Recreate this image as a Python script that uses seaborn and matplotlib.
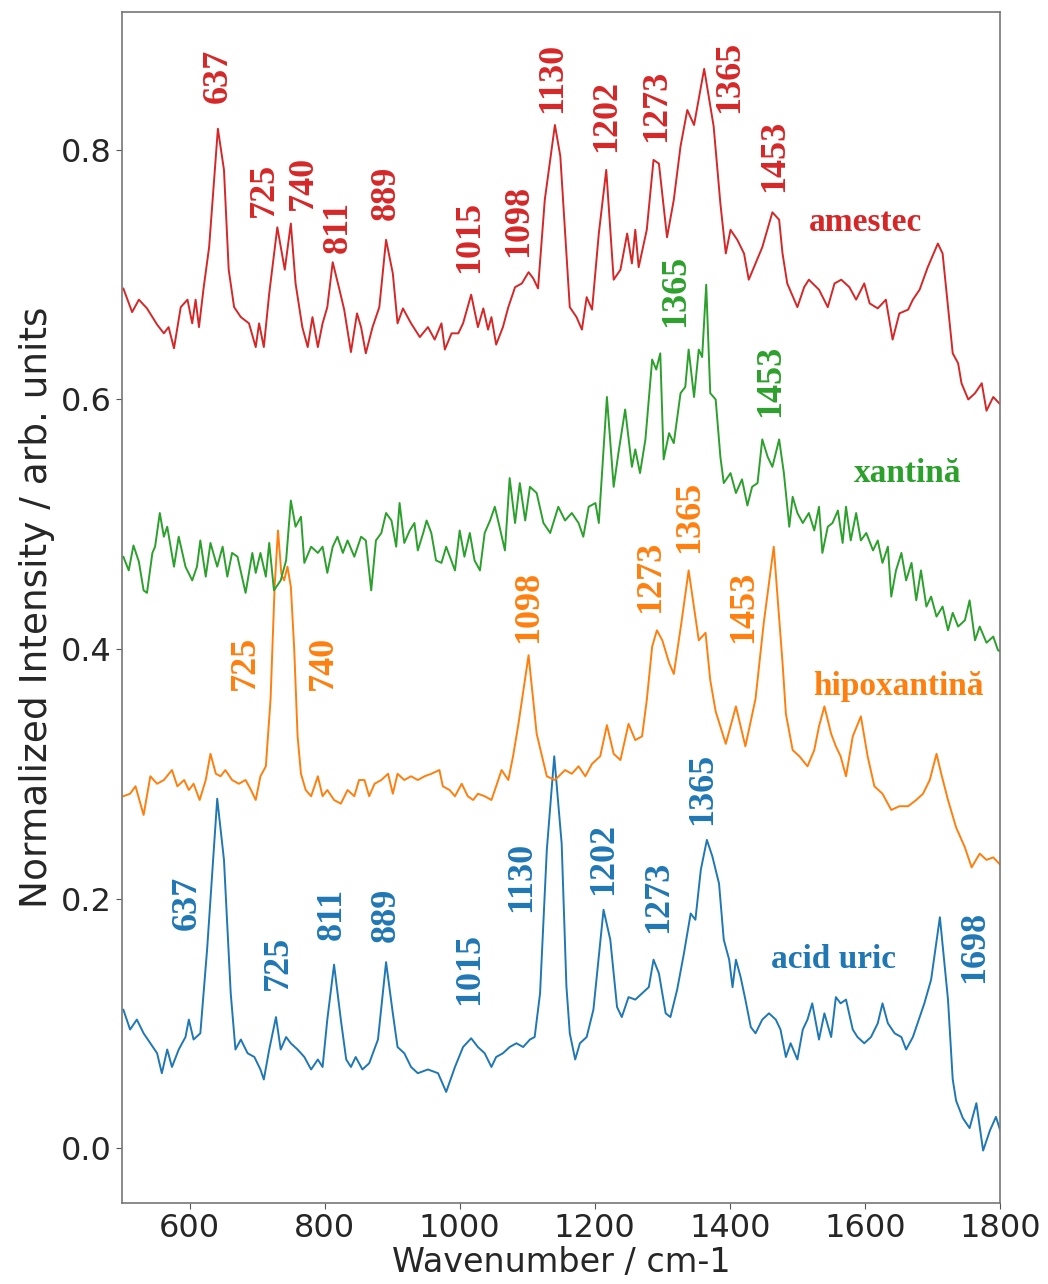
import numpy as np
import pandas as pd
import seaborn as sns
import matplotlib.pyplot as plt

# ---- spectra (wavenumber, normalized intensity) ----
amestec_x = [502, 515, 525, 537, 552, 562, 569, 577, 587, 597, 604, 609, 614, 621, 629, 642, 651, 658,
             666, 676, 688, 698, 703, 710, 718, 730, 741, 750, 757, 767, 775, 782, 790, 797, 804, 812,
             822, 829, 839, 848, 854, 861, 871, 881, 891, 901, 908, 916, 928, 941, 953, 963, 973, 978,
             988, 998, 1005, 1017, 1027, 1035, 1042, 1047, 1054, 1064, 1072, 1082, 1092, 1102, 1109,
             1116, 1126, 1141, 1149, 1163, 1173, 1181, 1188, 1196, 1206, 1217, 1228, 1238, 1248, 1255,
             1260, 1265, 1277, 1287, 1295, 1307, 1317, 1327, 1337, 1347, 1362, 1376, 1386, 1394, 1401,
             1411, 1421, 1428, 1438, 1448, 1463, 1473, 1478, 1485, 1500, 1510, 1517, 1532, 1545, 1555,
             1565, 1577, 1587, 1599, 1607, 1619, 1631, 1641, 1651, 1664, 1671, 1681, 1693, 1708, 1715,
             1723, 1730, 1738, 1743, 1753, 1763, 1773, 1780, 1790, 1804]
amestec_y = [0.689, 0.670, 0.680, 0.673, 0.660, 0.653, 0.658, 0.641, 0.674, 0.680, 0.661, 0.680, 0.658,
             0.690, 0.722, 0.817, 0.784, 0.704, 0.674, 0.666, 0.661, 0.642, 0.661, 0.642, 0.685, 0.738,
             0.704, 0.741, 0.693, 0.658, 0.642, 0.666, 0.642, 0.661, 0.674, 0.710, 0.688, 0.672, 0.638,
             0.669, 0.658, 0.637, 0.658, 0.674, 0.728, 0.701, 0.661, 0.673, 0.661, 0.650, 0.658, 0.648,
             0.661, 0.640, 0.653, 0.653, 0.661, 0.684, 0.658, 0.673, 0.656, 0.666, 0.644, 0.658, 0.674,
             0.690, 0.693, 0.702, 0.697, 0.689, 0.760, 0.820, 0.795, 0.674, 0.666, 0.656, 0.682, 0.672,
             0.733, 0.784, 0.696, 0.704, 0.733, 0.709, 0.736, 0.706, 0.736, 0.792, 0.789, 0.730, 0.760,
             0.803, 0.832, 0.820, 0.865, 0.819, 0.757, 0.717, 0.736, 0.728, 0.717, 0.696, 0.709, 0.722,
             0.750, 0.744, 0.717, 0.693, 0.674, 0.690, 0.696, 0.688, 0.674, 0.693, 0.696, 0.690, 0.680,
             0.693, 0.677, 0.673, 0.680, 0.648, 0.669, 0.672, 0.680, 0.688, 0.706, 0.725, 0.717, 0.674,
             0.637, 0.629, 0.613, 0.600, 0.605, 0.613, 0.591, 0.602, 0.594]

xantina_x = [502, 510, 517, 525, 532, 537, 545, 549, 556, 562, 567, 577, 584, 594, 604, 611, 616, 624,
             631, 641, 649, 656, 663, 671, 683, 693, 698, 705, 713, 718, 725, 735, 743, 750, 757, 765,
             770, 780, 790, 797, 804, 812, 819, 827, 834, 844, 854, 861, 869, 876, 884, 891, 899, 906,
             911, 918, 926, 933, 938, 946, 951, 958, 965, 973, 980, 993, 1000, 1007, 1015, 1022, 1030,
             1037, 1045, 1052, 1059, 1067, 1074, 1082, 1089, 1097, 1104, 1114, 1124, 1134, 1146, 1156,
             1166, 1176, 1183, 1191, 1201, 1206, 1210, 1218, 1228, 1235, 1245, 1255, 1260, 1267, 1275,
             1285, 1291, 1297, 1302, 1310, 1317, 1327, 1334, 1339, 1347, 1354, 1359, 1365, 1371, 1379,
             1386, 1391, 1401, 1409, 1418, 1426, 1433, 1441, 1448, 1456, 1463, 1473, 1480, 1488, 1493,
             1500, 1508, 1517, 1525, 1532, 1537, 1545, 1552, 1560, 1567, 1572, 1579, 1587, 1594, 1602,
             1612, 1619, 1626, 1634, 1639, 1646, 1654, 1661, 1669, 1676, 1683, 1691, 1698, 1706, 1715,
             1723, 1730, 1738, 1748, 1755, 1763, 1770, 1780, 1790, 1797, 1804]
xantina_y = [0.474, 0.463, 0.483, 0.470, 0.447, 0.445, 0.477, 0.482, 0.509, 0.490, 0.498, 0.466, 0.490,
             0.466, 0.455, 0.466, 0.487, 0.458, 0.485, 0.466, 0.482, 0.458, 0.477, 0.474, 0.445, 0.477,
             0.461, 0.477, 0.458, 0.485, 0.447, 0.455, 0.471, 0.519, 0.498, 0.506, 0.469, 0.482, 0.477,
             0.482, 0.461, 0.482, 0.490, 0.477, 0.487, 0.474, 0.490, 0.487, 0.447, 0.487, 0.493, 0.509,
             0.503, 0.482, 0.517, 0.485, 0.495, 0.501, 0.479, 0.493, 0.503, 0.493, 0.471, 0.469, 0.482,
             0.463, 0.495, 0.474, 0.493, 0.471, 0.463, 0.493, 0.503, 0.514, 0.498, 0.479, 0.537, 0.501,
             0.533, 0.503, 0.530, 0.525, 0.501, 0.493, 0.514, 0.503, 0.509, 0.501, 0.490, 0.514, 0.517,
             0.501, 0.535, 0.602, 0.530, 0.557, 0.592, 0.546, 0.560, 0.541, 0.568, 0.632, 0.624, 0.637,
             0.552, 0.573, 0.565, 0.605, 0.610, 0.640, 0.602, 0.640, 0.634, 0.692, 0.605, 0.600, 0.554,
             0.533, 0.541, 0.525, 0.536, 0.515, 0.530, 0.533, 0.568, 0.554, 0.546, 0.568, 0.541, 0.498,
             0.522, 0.509, 0.501, 0.509, 0.495, 0.514, 0.477, 0.498, 0.501, 0.511, 0.485, 0.514, 0.487,
             0.509, 0.487, 0.493, 0.479, 0.487, 0.469, 0.482, 0.442, 0.463, 0.477, 0.455, 0.469, 0.439,
             0.463, 0.434, 0.442, 0.426, 0.434, 0.415, 0.429, 0.418, 0.423, 0.439, 0.407, 0.418, 0.405,
             0.410, 0.399, 0.397]

hipox_x = [502, 512, 520, 532, 542, 552, 562, 574, 582, 592, 599, 606, 615, 624, 631, 639, 646, 653,
           663, 673, 683, 691, 698, 705, 713, 720, 726, 731, 736, 740, 745, 750, 755, 760, 765, 772,
           780, 790, 797, 804, 814, 824, 834, 844, 851, 859, 866, 874, 884, 894, 901, 908, 918, 928,
           938, 948, 958, 970, 975, 985, 993, 1003, 1012, 1020, 1027, 1037, 1047, 1054, 1062, 1072,
           1079, 1087, 1102, 1114, 1129, 1141, 1156, 1166, 1176, 1186, 1196, 1208, 1218, 1228, 1238,
           1250, 1260, 1270, 1277, 1285, 1292, 1300, 1310, 1317, 1328, 1339, 1354, 1364, 1371, 1379,
           1394, 1409, 1423, 1438, 1450, 1465, 1478, 1483, 1493, 1503, 1515, 1525, 1532, 1540, 1550,
           1557, 1564, 1572, 1582, 1594, 1604, 1614, 1626, 1639, 1651, 1664, 1676, 1686, 1696, 1706,
           1713, 1723, 1735, 1748, 1758, 1770, 1780, 1790, 1804]
hipox_y = [0.282, 0.284, 0.290, 0.267, 0.298, 0.292, 0.295, 0.303, 0.290, 0.295, 0.287, 0.292, 0.279,
           0.295, 0.316, 0.300, 0.298, 0.303, 0.295, 0.292, 0.295, 0.287, 0.279, 0.298, 0.306, 0.360,
           0.450, 0.495, 0.460, 0.455, 0.466, 0.450, 0.400, 0.330, 0.300, 0.287, 0.282, 0.298, 0.282,
           0.287, 0.279, 0.276, 0.287, 0.282, 0.295, 0.295, 0.282, 0.292, 0.295, 0.300, 0.284, 0.300,
           0.295, 0.298, 0.295, 0.298, 0.300, 0.303, 0.290, 0.287, 0.282, 0.292, 0.282, 0.279, 0.284,
           0.282, 0.279, 0.290, 0.303, 0.295, 0.314, 0.340, 0.395, 0.332, 0.298, 0.295, 0.303, 0.300,
           0.306, 0.298, 0.308, 0.314, 0.339, 0.316, 0.311, 0.340, 0.327, 0.330, 0.359, 0.402, 0.415,
           0.407, 0.389, 0.380, 0.420, 0.463, 0.407, 0.413, 0.375, 0.350, 0.324, 0.354, 0.322, 0.360,
           0.420, 0.482, 0.389, 0.348, 0.319, 0.314, 0.306, 0.319, 0.338, 0.354, 0.332, 0.322, 0.314,
           0.298, 0.330, 0.346, 0.314, 0.290, 0.284, 0.271, 0.274, 0.274, 0.279, 0.284, 0.295, 0.316,
           0.300, 0.279, 0.257, 0.241, 0.225, 0.236, 0.231, 0.233, 0.225]

uric_x = [502, 512, 522, 532, 542, 552, 559, 567, 574, 584, 594, 599, 606, 616, 626, 641, 651, 661,
          668, 676, 686, 696, 705, 710, 718, 728, 735, 743, 750, 760, 770, 780, 790, 797, 804, 814,
          824, 832, 839, 846, 856, 866, 879, 891, 901, 908, 918, 928, 938, 953, 968, 980, 993, 1005,
          1017, 1027, 1037, 1047, 1054, 1064, 1074, 1084, 1094, 1104, 1111, 1119, 1129, 1140, 1151,
          1158, 1163, 1171, 1178, 1188, 1198, 1213, 1223, 1233, 1240, 1250, 1260, 1270, 1280, 1287,
          1295, 1305, 1312, 1322, 1332, 1342, 1349, 1357, 1366, 1374, 1384, 1391, 1399, 1404, 1409,
          1416, 1423, 1431, 1438, 1448, 1458, 1468, 1475, 1483, 1490, 1500, 1508, 1515, 1522, 1532,
          1540, 1550, 1557, 1564, 1572, 1582, 1589, 1599, 1609, 1619, 1626, 1634, 1644, 1654, 1661,
          1671, 1681, 1688, 1698, 1711, 1723, 1730, 1735, 1745, 1755, 1765, 1775, 1785, 1794, 1801]
uric_y = [0.111, 0.095, 0.103, 0.092, 0.084, 0.076, 0.060, 0.079, 0.065, 0.079, 0.089, 0.103, 0.087,
          0.092, 0.159, 0.280, 0.231, 0.124, 0.079, 0.087, 0.076, 0.073, 0.063, 0.055, 0.079, 0.105,
          0.079, 0.089, 0.084, 0.079, 0.073, 0.063, 0.071, 0.065, 0.103, 0.147, 0.103, 0.071, 0.065,
          0.073, 0.063, 0.068, 0.087, 0.149, 0.108, 0.081, 0.076, 0.065, 0.060, 0.063, 0.060, 0.045,
          0.065, 0.081, 0.088, 0.081, 0.076, 0.065, 0.073, 0.076, 0.081, 0.084, 0.081, 0.087, 0.089,
          0.124, 0.239, 0.314, 0.244, 0.130, 0.092, 0.071, 0.084, 0.089, 0.111, 0.191, 0.167, 0.113,
          0.105, 0.121, 0.119, 0.124, 0.129, 0.151, 0.140, 0.108, 0.105, 0.127, 0.156, 0.188, 0.183,
          0.223, 0.247, 0.234, 0.212, 0.167, 0.151, 0.129, 0.151, 0.137, 0.119, 0.097, 0.092, 0.103,
          0.108, 0.103, 0.095, 0.073, 0.084, 0.071, 0.095, 0.103, 0.116, 0.087, 0.108, 0.089, 0.121,
          0.116, 0.119, 0.095, 0.089, 0.084, 0.089, 0.100, 0.116, 0.100, 0.092, 0.089, 0.079, 0.089,
          0.105, 0.116, 0.135, 0.185, 0.119, 0.055, 0.038, 0.024, 0.016, 0.036, -0.002, 0.014, 0.025,
          0.013]

# ---- peak labels: (text, x, y) ----
amestec_peaks = [("637", 643, 0.838), ("725", 711, 0.746), ("740", 768, 0.752), ("811", 820, 0.717),
                 ("889", 891, 0.744), ("1015", 1014, 0.701), ("1098", 1087, 0.714), ("1130", 1138, 0.830),
                 ("1202", 1218, 0.798), ("1273", 1292, 0.806), ("1365", 1399, 0.830), ("1453", 1467, 0.766)]
xantina_peaks = [("1365", 1319, 0.658), ("1453", 1460, 0.586)]
hipox_peaks = [("725", 683, 0.367), ("740", 798, 0.367), ("1098", 1102, 0.405), ("1273", 1282, 0.429),
               ("1365", 1340, 0.477), ("1453", 1421, 0.405)]
uric_peaks = [("637", 597, 0.175), ("725", 731, 0.127), ("811", 812, 0.167), ("889", 891, 0.165),
              ("1015", 1014, 0.115), ("1130", 1092, 0.189), ("1202", 1213, 0.203), ("1273", 1295, 0.172),
              ("1365", 1359, 0.259), ("1698", 1763, 0.132)]

names = ["acid uric", "hipoxantină", "xantină", "amestec"]
name_pos = [(1553, 0.151), (1649, 0.370), (1663, 0.541), (1601, 0.742)]
colors = ["#1f77b4", "#ff7f0e", "#2ca02c", "#d62728"]

sns.set_style("ticks")
plt.rcParams['font.family'] = ['DejaVu Sans']

fig = plt.figure(figsize=(10.48, 12.84), dpi=100)
ax = fig.add_axes([0.1164, 0.0631, 0.8378, 0.9276])

series = [(uric_x, uric_y, uric_peaks), (hipox_x, hipox_y, hipox_peaks),
          (xantina_x, xantina_y, xantina_peaks), (amestec_x, amestec_y, amestec_peaks)]

for (xs, ys, peaks), name, pos, col in zip(series, names, name_pos, colors):
    df = pd.DataFrame({"wn": xs, "I": ys})
    sns.lineplot(data=df, x="wn", y="I", color=col, linewidth=1.4, ax=ax, estimator=None, sort=False)
    for txt, px, py in peaks:
        ax.text(px, py, txt, rotation=90, ha="center", va="bottom", color=col,
                fontsize=26, fontweight="bold", family="Liberation Serif")
    ax.text(pos[0], pos[1], name, ha="center", va="center", color=col,
            fontsize=24, fontweight="bold", family="Liberation Serif")

ax.set_xlim(500, 1800)
ax.set_ylim(-0.044, 0.9106)
ax.set_xticks([600, 800, 1000, 1200, 1400, 1600, 1800])
ax.set_yticks([0.0, 0.2, 0.4, 0.6, 0.8])
ax.tick_params(labelsize=23, length=4, color="#555555")
ax.set_xlabel("Wavenumber / cm-1", fontsize=24, labelpad=1)
ax.set_ylabel("Normalized Intensity / arb. units", fontsize=27, labelpad=4)
for sp in ax.spines.values():
    sp.set_color("#777777")
    sp.set_linewidth(1.2)

fig.savefig("out.png", dpi=100)
